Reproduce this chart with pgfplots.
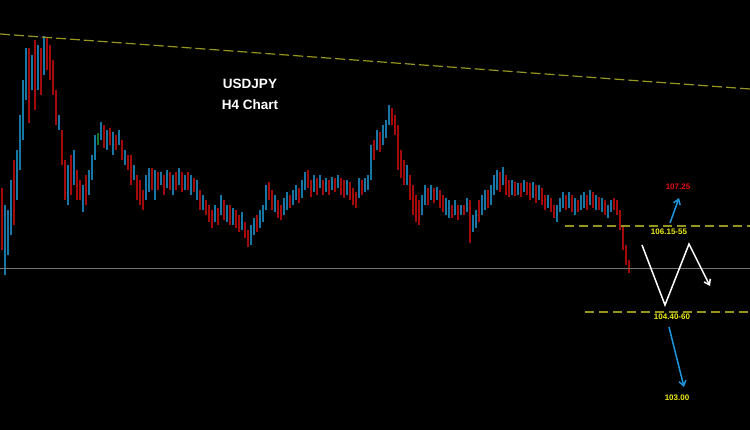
\documentclass[border=0pt]{standalone}
\usepackage{pgfplots}
\pgfplotsset{compat=1.18}
\usepackage{pgfplotstable}
\usetikzlibrary{arrows.meta}
\usepackage{fontspec}
\setmainfont{Liberation Sans}
\definecolor{cred}{RGB}{165,10,10}
\definecolor{cblue}{RGB}{24,118,165}
\definecolor{cgreen}{RGB}{20,120,40}
\definecolor{cdash}{RGB}{150,150,30}
\definecolor{cyel}{RGB}{235,235,20}
\definecolor{clab}{RGB}{230,15,15}
\definecolor{carrow}{RGB}{30,150,220}
\definecolor{cgrey}{RGB}{115,115,115}
\pgfplotstableread{
x t b
5 205 275
8 210 255
11 180 235
17 150 200
20 115 170
23 80 140
26 48 100
32 55 90
38 45 90
44 36 75
59 115 130
68 165 205
74 150 185
83 185 212
89 170 195
92 155 180
95 135 160
101 122 140
107 130 150
113 132 155
119 130 145
125 150 165
134 165 180
146 175 200
149 168 192
155 170 200
161 172 185
167 170 188
173 175 195
179 168 185
185 175 190
191 175 195
197 180 200
203 195 210
215 205 222
221 195 215
227 205 222
233 208 225
242 212 230
251 225 245
254 218 235
260 210 228
263 205 222
266 185 210
275 195 212
284 198 215
287 192 210
293 190 205
296 185 200
302 180 198
305 172 190
314 175 192
320 175 188
326 178 192
332 177 190
338 175 188
347 180 195
359 178 198
365 178 192
368 175 190
371 145 180
377 130 150
383 125 145
386 120 138
389 105 125
407 165 185
422 195 215
425 185 205
431 185 200
437 187 200
446 198 215
449 200 218
455 200 215
461 205 215
467 198 212
473 215 232
476 210 228
482 195 215
485 190 210
491 185 205
494 175 195
497 170 190
503 167 185
512 180 195
518 183 195
524 180 192
533 182 198
539 185 200
548 195 208
557 205 222
560 198 212
563 192 208
569 192 208
575 198 215
581 195 210
584 192 208
590 190 205
596 195 210
602 198 212
608 205 218
611 200 212
}\bluetab
\pgfplotstableread{
x t b
2 188 250
14 160 225
29 48 123
35 40 110
41 48 95
47 38 70
50 45 80
53 60 95
56 90 125
62 130 165
65 160 200
71 155 195
77 170 200
80 180 200
86 175 205
104 125 148
110 128 145
116 135 150
122 140 160
128 155 170
131 155 185
137 175 200
140 180 205
143 190 210
152 168 190
158 172 190
164 175 195
170 172 190
176 172 190
182 172 192
188 172 190
194 178 192
200 190 210
206 200 215
209 205 222
212 210 228
218 208 225
224 200 220
230 205 225
236 210 228
239 215 232
245 222 238
248 230 247
257 215 232
269 182 200
272 190 210
278 200 218
281 205 220
290 195 208
299 188 203
308 170 188
311 180 197
317 178 195
323 180 195
329 180 195
335 178 192
341 178 195
344 180 198
350 182 200
353 188 205
356 192 208
362 180 195
374 140 160
380 132 152
392 108 125
395 115 135
398 125 170
401 150 178
404 160 185
410 175 200
413 185 215
416 195 222
419 200 225
428 188 205
434 188 203
440 190 208
443 195 212
452 205 218
458 205 220
464 205 215
470 200 243
479 200 222
488 190 208
500 172 192
506 175 195
509 180 197
515 182 196
521 183 197
527 182 195
530 183 200
536 185 203
542 188 205
545 195 210
551 198 212
554 205 218
566 195 210
572 195 212
578 200 212
587 195 210
593 192 208
599 197 210
605 200 215
614 198 210
617 200 215
620 210 230
623 225 250
626 245 265
629 260 273
}\redtab
\pgfplotstableread{
x t b
98 133 145
}\greentab
\begin{document}
\begin{tikzpicture}
\begin{axis}[
  scale only axis, width=750pt, height=430pt,
  xmin=0, xmax=750, ymin=0, ymax=430, y dir=reverse,
  axis line style={draw=none}, ticks=none,
  axis background/.style={fill=black},
  clip=true,
]
\addplot[draw=none, mark=none, forget plot, error bars/.cd, y dir=both, y explicit, error mark=none, error bar style={draw=cblue, line width=2.8pt}]
  table[x=x, y expr={(\thisrow{t}+\thisrow{b})/2}, y error expr={(\thisrow{b}-\thisrow{t})/2}] {\bluetab};
\addplot[draw=none, mark=none, forget plot, error bars/.cd, y dir=both, y explicit, error mark=none, error bar style={draw=cred, line width=2.8pt}]
  table[x=x, y expr={(\thisrow{t}+\thisrow{b})/2}, y error expr={(\thisrow{b}-\thisrow{t})/2}] {\redtab};
\addplot[draw=none, mark=none, forget plot, error bars/.cd, y dir=both, y explicit, error mark=none, error bar style={draw=cgreen, line width=2.8pt}]
  table[x=x, y expr={(\thisrow{t}+\thisrow{b})/2}, y error expr={(\thisrow{b}-\thisrow{t})/2}] {\greentab};
% grey level line
\addplot[cgrey, line width=1pt] coordinates {(0,269) (750,269)};
% dashed lines
\addplot[cdash, line width=1.2pt, dash pattern=on 10pt off 4pt] coordinates {(0,34) (750,89)};
\addplot[cdash, line width=1.2pt, dash pattern=on 9pt off 5pt] coordinates {(565,226) (750,226)};
\addplot[cdash, line width=1.2pt, dash pattern=on 9pt off 5pt] coordinates {(585,312) (750,312)};
% arrows
\addplot[carrow, line width=1.5pt, -{Straight Barb[length=5pt,width=7pt]}] coordinates {(670,223) (679,198)};
\addplot[carrow, line width=1.5pt, -{Straight Barb[length=5pt,width=7pt]}] coordinates {(669,327) (684,387)};
\addplot[white, line width=1.5pt, -{Straight Barb[length=5pt,width=7pt]}] coordinates {(642,245) (665,305) (689,244) (710,286)};
% texts
\node[white, font=\fontsize{13.5}{16}\selectfont\bfseries] at (axis cs:250,84) {USDJPY};
\node[white, font=\fontsize{13.5}{16}\selectfont\bfseries] at (axis cs:250,105) {H4 Chart};
\node[clab, font=\fontsize{8}{9}\selectfont\bfseries] at (axis cs:678,187) {107.25};
\node[cyel, font=\fontsize{8}{9}\selectfont\bfseries] at (axis cs:669,232) {106.15-55};
\node[cyel, font=\fontsize{8}{9}\selectfont\bfseries] at (axis cs:672,317) {104.40-60};
\node[cyel, font=\fontsize{8}{9}\selectfont\bfseries] at (axis cs:677,398) {103.00};
\end{axis}
\end{tikzpicture}
\end{document}
